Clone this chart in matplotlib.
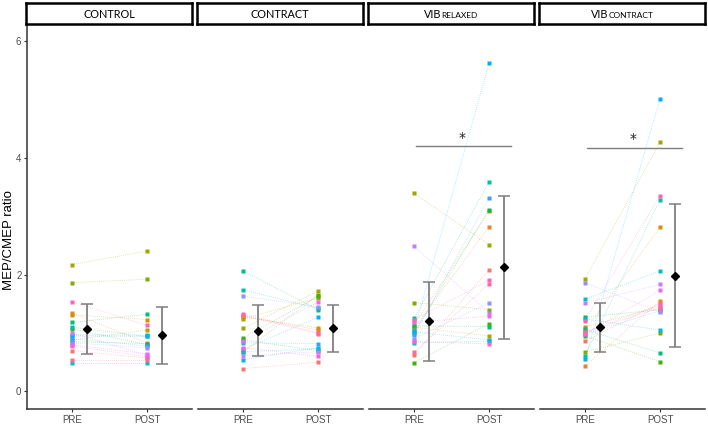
import matplotlib.pyplot as plt
import numpy as np

# conditions (facets) and time points
cond_main = ["CONTROL", "CONTRACT", "VIB", "VIB"]
cond_small = ["", "", "RELAXED", "CONTRACT"]
times = ["PRE", "POST"]

# MEP/CMEP ratio per subject (S1..S20, same order in each condition)
control_pre = [0.70, 1.34, 1.31, 0.88, 2.17, 1.86, 1.07, 0.85, 1.18, 1.10,
               0.49, 0.97, 0.95, 0.90, 0.83, 1.00, 0.80, 0.78, 1.53, 0.54]
control_post = [0.57, 0.83, 1.23, 1.05, 2.40, 1.92, 0.80, 0.82, 1.32, 0.94,
                0.49, 0.96, 0.94, 0.78, 0.75, 0.62, 0.64, 0.59, 1.13, 0.54]

contract_pre = [0.39, 1.29, 1.27, 1.24, 1.08, 0.67, 0.91, 0.88, 2.06, 1.74,
                0.68, 0.54, 0.72, 0.83, 1.63, 0.61, 0.86, 0.75, 1.33, 1.30]
contract_post = [0.50, 1.05, 1.09, 1.60, 1.72, 1.65, 1.63, 0.70, 1.40, 1.42,
                 0.73, 0.75, 1.27, 0.82, 1.45, 0.68, 1.53, 0.60, 1.00, 0.99]

relaxed_pre = [0.62, 1.07, 1.14, 1.10, 3.39, 1.52, 0.49, 1.00, 1.12, 1.25,
               0.83, 1.02, 1.04, 0.96, 0.90, 2.48, 1.18, 0.86, 1.23, 0.67]
relaxed_post = [2.08, 2.82, 3.08, 0.95, 2.51, 1.40, 1.16, 3.11, 1.11, 3.58,
                0.86, 0.88, 5.61, 3.31, 1.52, 1.35, 1.29, 0.81, 1.90, 1.84]

vibcon_pre = [0.86, 0.43, 1.04, 1.10, 1.93, 0.67, 0.95, 1.27, 1.06, 0.61,
              1.58, 1.24, 0.55, 0.98, 1.86, 1.51, 0.98, 1.02, 1.21, 1.01]
vibcon_post = [1.51, 1.55, 2.81, 1.45, 4.26, 1.00, 0.51, 1.40, 0.66, 3.28,
               2.06, 1.05, 5.01, 1.38, 1.36, 1.83, 1.73, 1.48, 3.35, 1.43]

pre_values = [control_pre, contract_pre, relaxed_pre, vibcon_pre]
post_values = [control_post, contract_post, relaxed_post, vibcon_post]

# group mean +/- SD
mean_pre = [1.07, 1.04, 1.20, 1.10]
sd_pre = [0.43, 0.44, 0.68, 0.42]
mean_post = [0.96, 1.08, 2.12, 1.98]
sd_post = [0.49, 0.40, 1.23, 1.22]

# significance brackets (None = no bracket)
sig_y = [None, None, 4.20, 4.17]

# ggplot hue palette, 20 subjects
subject_colors = ["#F8766D", "#EA8331", "#D89000", "#C09B00", "#A3A500",
                  "#7CAE00", "#39B600", "#00BB4E", "#00BF7D", "#00C1A3",
                  "#00BFC4", "#00BAE0", "#00B0F6", "#35A2FF", "#9590FF",
                  "#C77CFF", "#E76BF3", "#FA62DB", "#FF62BC", "#FF6C91"]

W, H = 708, 424
fig = plt.figure(figsize=(W / 100, H / 100), dpi=100)
fig.patch.set_facecolor("white")

lefts = [27, 198, 369, 540]
pw = 165
top, bottom = 26, 409
tick_col = "#4D4D4D"

for k in range(4):
    ax = fig.add_axes([lefts[k] / W, 1 - bottom / H, pw / W, (bottom - top) / H])
    pre = pre_values[k]
    post = post_values[k]
    for i in range(len(pre)):
        ax.plot([1, 2], [pre[i], post[i]], ls=(0, (1, 1.5)), lw=0.6,
                color=subject_colors[i], alpha=0.4, zorder=1)
    for i in range(len(pre)):
        ax.plot([1, 2], [pre[i], post[i]], ls="none", marker="s", ms=2.2,
                mec="none", mfc=subject_colors[i], zorder=2)

    ax.errorbar([1.2, 2.2], [mean_pre[k], mean_post[k]],
                yerr=[sd_pre[k], sd_post[k]], fmt="none", ecolor="#7F7F7F",
                elinewidth=1.3, capsize=4.5, capthick=1.1, zorder=3)
    ax.plot([1.2, 2.2], [mean_pre[k], mean_post[k]], ls="none", marker="D",
            ms=3.6, color="black", zorder=4)

    if sig_y[k] is not None:
        ax.plot([1.02, 2.29], [sig_y[k], sig_y[k]], color="#7F7F7F", lw=1)
        ax.text(1.645, sig_y[k] + 0.02, "*", ha="center", va="bottom",
                fontsize=10, color="#222222")

    ax.set_xlim(0.4, 2.6)
    ax.set_ylim(-0.30, 6.25)
    ax.set_xticks([1, 2])
    ax.set_xticklabels(times, fontsize=7, color=tick_col,
                       family="Liberation Sans")
    ax.set_yticks([0, 2, 4, 6])
    for s in ["top", "right"]:
        ax.spines[s].set_visible(False)
    ax.spines["bottom"].set_color("#333333")
    ax.spines["bottom"].set_linewidth(1.1)
    ax.tick_params(axis="both", length=2.5, width=0.8, color="#333333", pad=1.5)
    if k == 0:
        ax.spines["left"].set_color("#333333")
        ax.spines["left"].set_linewidth(1.1)
        ax.set_yticklabels(["0", "2", "4", "6"], fontsize=7, color=tick_col,
                           family="Liberation Sans")
        ax.set_ylabel("MEP/CMEP ratio", fontsize=9.5, family="Liberation Sans",
                      va="center")
        ax.yaxis.set_label_coords(-0.112, 0.44)
    else:
        ax.spines["left"].set_visible(False)
        ax.tick_params(axis="y", left=False, labelleft=False)

    # strip header
    sax = fig.add_axes([(lefts[k] - 1) / W, 1 - 24 / H, (pw + 1) / W, 21 / H])
    sax.set_xticks([])
    sax.set_yticks([])
    for s in sax.spines.values():
        s.set_linewidth(1.8)
        s.set_color("black")
    sax.set_facecolor("white")
    t1 = sax.text(0.5, 0.45, cond_main[k], ha="center", va="center",
                  fontsize=7.8, family="Lato", transform=sax.transAxes)
    if cond_small[k]:
        t2 = sax.text(0.5, 0.45, cond_small[k], ha="left", va="baseline",
                      fontsize=6, family="Lato", transform=sax.transAxes)
        fig.canvas.draw()
        r = fig.canvas.get_renderer()
        w1 = t1.get_window_extent(r).width
        w2 = t2.get_window_extent(r).width
        sw = sax.get_window_extent(r).width
        start = 0.5 - (w1 + w2) / 2 / sw
        t1.set_ha("left")
        t1.set_va("baseline")
        t1.set_position((start, 0.28))
        t2.set_position((start + w1 / sw, 0.28))

fig.savefig("out.png", dpi=100)
